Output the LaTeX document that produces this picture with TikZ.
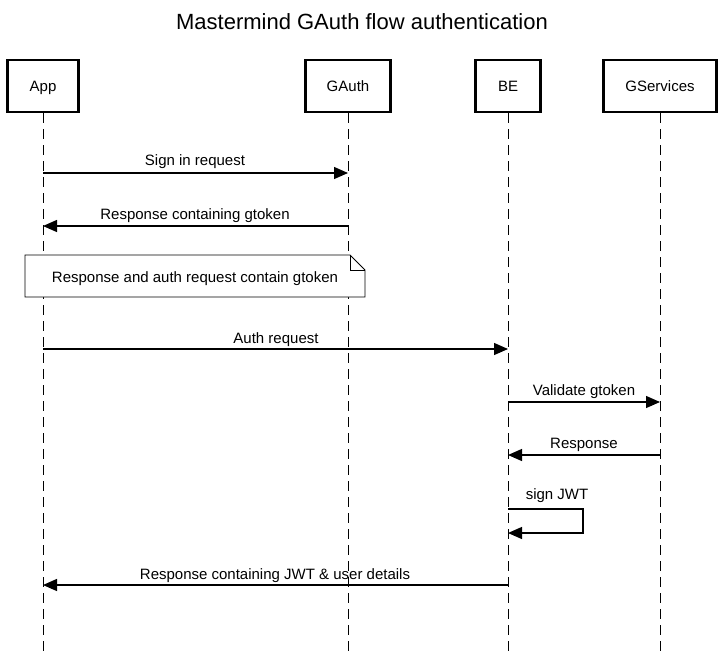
\documentclass[tikz,border=0pt]{standalone}
\usepackage{fontspec}
\setmainfont{Liberation Sans}
\usetikzlibrary{arrows.meta,calc}
\begin{document}
\begin{tikzpicture}[x=1pt,y=-1pt,
  actor/.style={draw,line width=2.4pt,fill=white,minimum height=52pt,inner sep=0pt,text height=11pt,text depth=0pt,font=\fontsize{15}{17}\selectfont},
  life/.style={line width=1pt,dash pattern=on 10pt off 6pt},
  msg/.style={line width=1.3pt,-{Triangle[length=14pt,width=12pt]}},
  lbl/.style={font=\fontsize{15}{17}\selectfont,inner sep=0pt,text height=11pt,text depth=0pt}]
\useasboundingbox[fill=white] (0,0) rectangle (725,651);
\node[font=\fontsize{22}{26}\selectfont] (title) at (362,22) {Mastermind GAuth flow authentication};
% actors
\node[actor,minimum width=71pt] (app) at (43,86) {App};
\node[actor,minimum width=85pt] (gauth) at (348,86) {GAuth};
\node[actor,minimum width=65pt] (be) at (508,86) {BE};
\node[actor,minimum width=113pt] (gs) at (660,86) {GServices};
% lifeline ends
\coordinate (appE) at (43,651);
\coordinate (gauthE) at (348,651);
\coordinate (beE) at (508,651);
\coordinate (gsE) at (660,651);
\draw[life] (app.south) -- (appE);
\draw[life] (gauth.south) -- (gauthE);
\draw[life] (be.south) -- (beE);
\draw[life] (gs.south) -- (gsE);
% message points
\coordinate (a1) at (43,173); \coordinate (g1) at (348,173);
\coordinate (a2) at (43,226); \coordinate (g2) at (348,226);
\coordinate (a4) at (43,349); \coordinate (b4) at (508,349);
\coordinate (b5) at (508,402); \coordinate (s5) at (660,402);
\coordinate (b6) at (508,455); \coordinate (s6) at (660,455);
\coordinate (b7) at (508,509); \coordinate (r7) at (583,509);
\coordinate (r7b) at (583,533); \coordinate (b7b) at (508,533);
\coordinate (a8) at (43,585); \coordinate (b8) at (508,585);
\draw[msg] (a1) -- (g1);
\node[lbl] (l1) at (195,160) {Sign in request};
\draw[msg] (g2) -- (a2);
\node[lbl] (l2) at (195,214) {Response containing gtoken};
% note
\draw[line width=0.8pt,fill=white] (25,255) -- (350,255) -- (365,270) -- (365,297) -- (25,297) -- cycle;
\draw[line width=0.8pt] (350,255) -- (350,270) -- (365,270);
\node[lbl] (note) at (195,277) {Response and auth request contain gtoken};
\draw[msg] (a4) -- (b4);
\node[lbl] (l4) at (276,338) {Auth request};
\draw[msg] (b5) -- (s5);
\node[lbl] (l5) at (584,390) {Validate gtoken};
\draw[msg] (s6) -- (b6);
\node[lbl] (l6) at (584,443) {Response};
\draw[msg] (b7) -- (r7) -- (r7b) -- (b7b);
\node[lbl] (l7) at (557,494) {sign JWT};
\draw[msg] (b8) -- (a8);
\node[lbl] (l8) at (275,574) {Response containing JWT \& user details};
\end{tikzpicture}
\end{document}
